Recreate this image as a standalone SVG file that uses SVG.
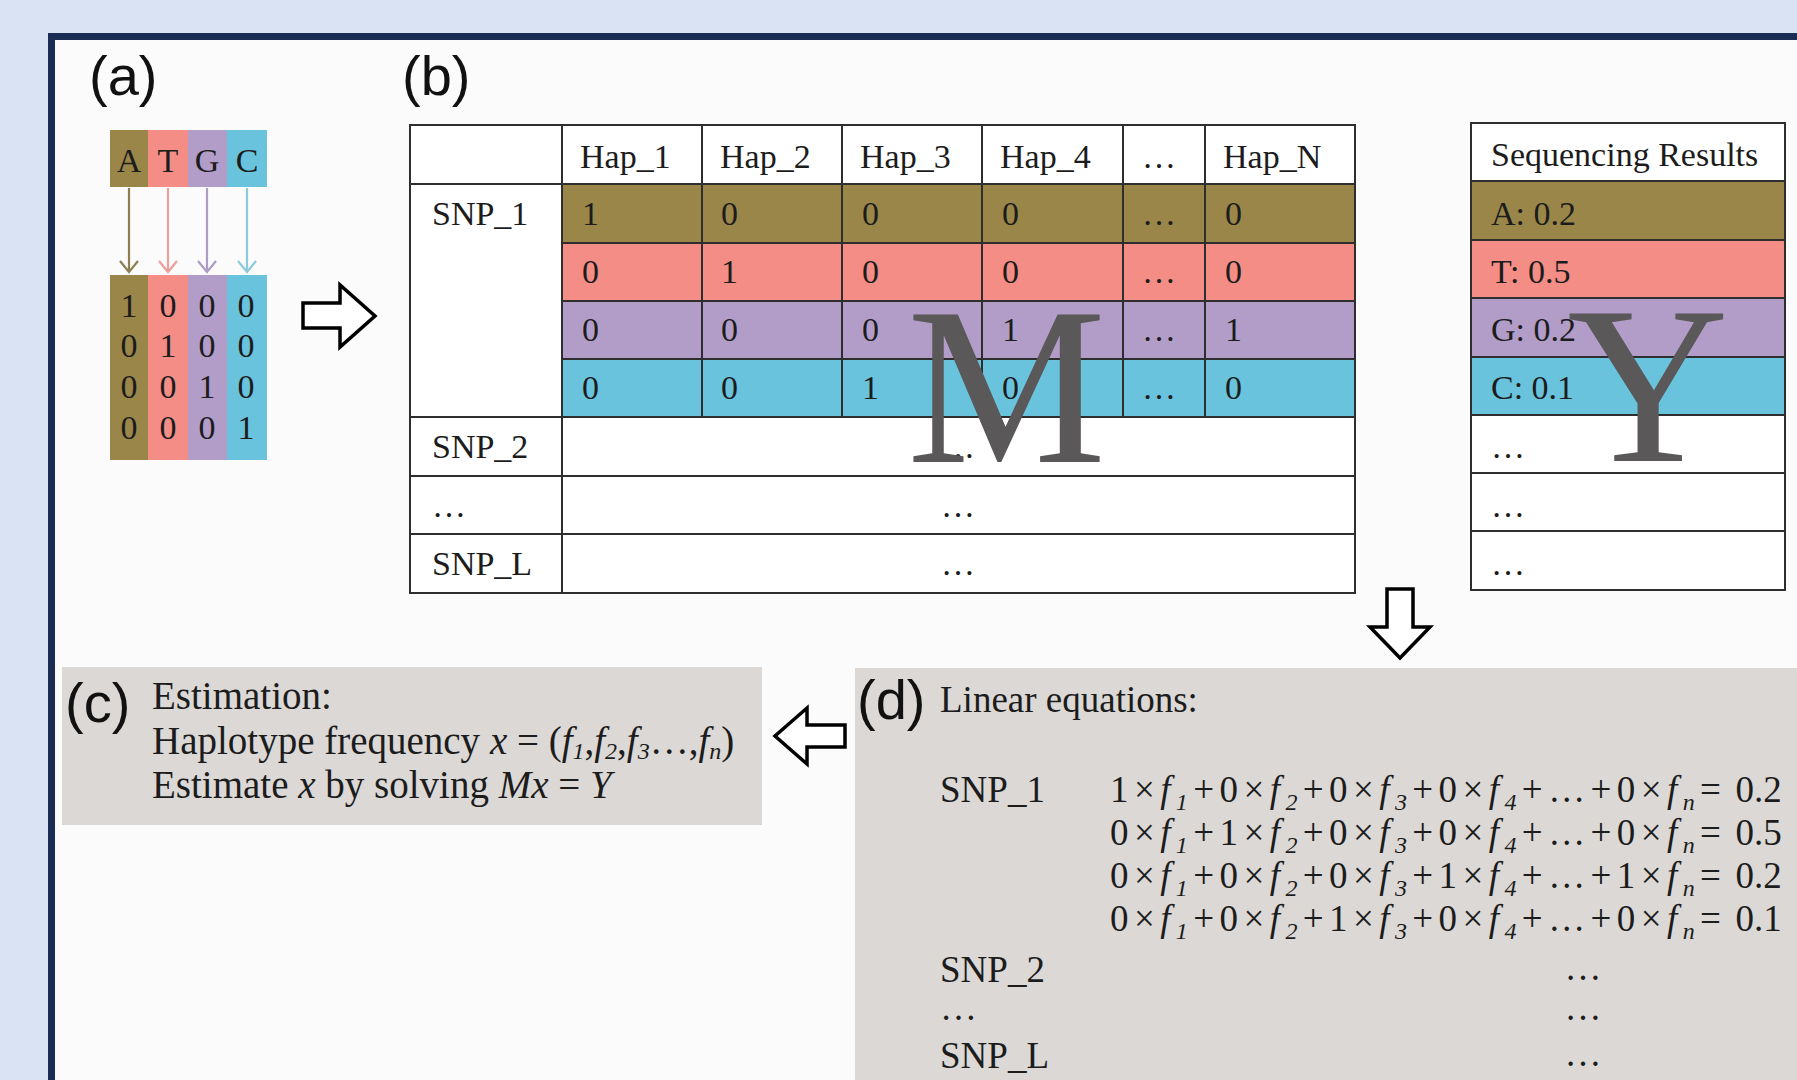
<svg xmlns="http://www.w3.org/2000/svg" width="1797" height="1080" viewBox="0 0 1797 1080">
  <style>
    .serif { font-family: "Liberation Serif", "Times New Roman", serif; fill: #1c1c1c; }
    .cell { font-size: 34px; }
    .big { font-family: "Liberation Serif", "Times New Roman", serif; font-size: 224px; fill: #5a5858; }
    .tag { font-family: "Liberation Sans", Arial, sans-serif; font-size: 56px; fill: #111; }
    .txt { font-size: 39px; }
    .eqn { font-size: 37px; }
    .eq { font-size: 37px; letter-spacing: 5.4px; }
    .val { letter-spacing: 0; }
    .it { font-style: italic; }
    .sub { font-style: italic; font-size: 24px; }
    .grid { stroke: #2e2e2e; stroke-width: 2; fill: none; }
    .hollow { fill: #ffffff; stroke: #000000; stroke-width: 3.5; stroke-linejoin: miter; }
    .cA { fill: #9a8649; }
    .cT { fill: #f38d86; }
    .cG { fill: #b29dc9; }
    .cC { fill: #69c3dc; }
    .panel { fill: #dbd8d6; }
  </style>

  <!-- page background and framed canvas -->
  <rect x="0" y="0" width="1797" height="1080" fill="#d9e3f3"/>
  <rect x="48" y="33" width="1749" height="1047" fill="#1b2d55"/>
  <rect x="55" y="40" width="1742" height="1040" fill="#fbfbfb"/>

  <!-- (a) base encoding -->
  <g id="panel-a">
    <text class="tag" x="89" y="95">(a)</text>
    <rect class="cA" x="110" y="130" width="38" height="57"/>
    <rect class="cT" x="148" y="130" width="40" height="57"/>
    <rect class="cG" x="188" y="130" width="39" height="57"/>
    <rect class="cC" x="227" y="130" width="40" height="57"/>
    <g class="serif cell" text-anchor="middle">
      <text x="129" y="172">A</text>
      <text x="168" y="172">T</text>
      <text x="207" y="172">G</text>
      <text x="247" y="172">C</text>
    </g>
    <rect class="cA" x="110" y="275" width="38" height="185"/>
    <rect class="cT" x="148" y="275" width="40" height="185"/>
    <rect class="cG" x="188" y="275" width="39" height="185"/>
    <rect class="cC" x="227" y="275" width="40" height="185"/>
    <g class="serif cell" text-anchor="middle">
      <text x="129" y="317">1</text><text x="168" y="317">0</text><text x="207" y="317">0</text><text x="246" y="317">0</text>
      <text x="129" y="357">0</text><text x="168" y="357">1</text><text x="207" y="357">0</text><text x="246" y="357">0</text>
      <text x="129" y="398">0</text><text x="168" y="398">0</text><text x="207" y="398">1</text><text x="246" y="398">0</text>
      <text x="129" y="439">0</text><text x="168" y="439">0</text><text x="207" y="439">0</text><text x="246" y="439">1</text>
    </g>
  </g>

  <!-- (b) haplotype matrix M -->
  <g id="table-m">
    <text class="tag" x="402" y="95">(b)</text>
    <rect x="410" y="125" width="945" height="468" fill="#ffffff"/>
    <rect class="cA" x="562" y="184" width="793" height="59"/>
    <rect class="cT" x="562" y="243" width="793" height="58"/>
    <rect class="cG" x="562" y="301" width="793" height="58"/>
    <rect class="cC" x="562" y="359" width="793" height="58"/>
    <g class="grid">
      <rect x="410" y="125" width="945" height="468"/>
      <path d="M410 184H1355 M562 243H1355 M562 301H1355 M562 359H1355 M410 417H1355 M410 476H1355 M410 534H1355"/>
      <path d="M562 125V593 M702 125V417 M842 125V417 M982 125V417 M1123 125V417 M1205 125V417"/>
    </g>
    <g class="serif cell">
      <text x="580" y="168">Hap_1</text>
      <text x="720" y="168">Hap_2</text>
      <text x="860" y="168">Hap_3</text>
      <text x="1000" y="168">Hap_4</text>
      <text x="1142" y="168">…</text>
      <text x="1223" y="168">Hap_N</text>
      <text x="432" y="225">SNP_1</text>
      <text x="432" y="458">SNP_2</text>
      <text x="432" y="517">…</text>
      <text x="432" y="575">SNP_L</text>

      <text x="582" y="225">1</text><text x="721" y="225">0</text><text x="862" y="225">0</text><text x="1002" y="225">0</text><text x="1142" y="225">…</text><text x="1225" y="225">0</text>
      <text x="582" y="283">0</text><text x="721" y="283">1</text><text x="862" y="283">0</text><text x="1002" y="283">0</text><text x="1142" y="283">…</text><text x="1225" y="283">0</text>
      <text x="582" y="341">0</text><text x="721" y="341">0</text><text x="862" y="341">0</text><text x="1002" y="341">1</text><text x="1142" y="341">…</text><text x="1225" y="341">1</text>
      <text x="582" y="399">0</text><text x="721" y="399">0</text><text x="862" y="399">1</text><text x="1002" y="399">0</text><text x="1142" y="399">…</text><text x="1225" y="399">0</text>

      <text x="958" y="458" text-anchor="middle">…</text>
      <text x="958" y="517" text-anchor="middle">…</text>
      <text x="958" y="575" text-anchor="middle">…</text>
    </g>
    <text class="big" x="907" y="462">M</text>
  </g>

  <!-- sequencing result vector Y -->
  <g id="table-y">
    <rect x="1471" y="123" width="314" height="467" fill="#ffffff"/>
    <rect class="cA" x="1471" y="181" width="314" height="59"/>
    <rect class="cT" x="1471" y="240" width="314" height="58"/>
    <rect class="cG" x="1471" y="298" width="314" height="59"/>
    <rect class="cC" x="1471" y="357" width="314" height="58"/>
    <g class="grid">
      <rect x="1471" y="123" width="314" height="467"/>
      <path d="M1471 181H1785 M1471 240H1785 M1471 298H1785 M1471 357H1785 M1471 415H1785 M1471 473H1785 M1471 531H1785"/>
    </g>
    <g class="serif cell">
      <text x="1491" y="166">Sequencing Results</text>
      <text x="1491" y="225">A: 0.2</text>
      <text x="1491" y="283">T: 0.5</text>
      <text x="1491" y="341">G: 0.2</text>
      <text x="1491" y="399">C: 0.1</text>
      <text x="1491" y="458">…</text>
      <text x="1491" y="517">…</text>
      <text x="1491" y="575">…</text>
    </g>
    <text class="big" x="1567" y="461">Y</text>
  </g>

  <!-- (c) estimation -->
  <g id="box-c">
    <rect class="panel" x="62" y="667" width="700" height="158"/>
    <text class="tag" x="65" y="722">(c)</text>
    <g class="serif txt">
      <text x="152" y="709">Estimation:</text>
      <text x="152" y="754">Haplotype frequency <tspan class="it">x</tspan> = (<tspan class="it">f</tspan><tspan class="sub" dy="5">1</tspan><tspan dy="-5">,</tspan><tspan class="it">f</tspan><tspan class="sub" dy="5">2</tspan><tspan dy="-5">,</tspan><tspan class="it">f</tspan><tspan class="sub" dy="5">3</tspan><tspan dy="-5">…,</tspan><tspan class="it">f</tspan><tspan class="sub" dy="5">n</tspan><tspan dy="-5">)</tspan></text>
      <text x="152" y="798">Estimate <tspan class="it">x</tspan> by solving <tspan class="it">Mx</tspan> = <tspan class="it">Y</tspan></text>
    </g>
  </g>

  <!-- (d) linear equations -->
  <g id="box-d">
    <rect class="panel" x="855" y="668" width="942" height="412"/>
    <text class="tag" x="857" y="719">(d)</text>
    <g class="serif eqn">
      <text x="940" y="712">Linear equations:</text>
      <text x="940" y="802">SNP_1</text>
      <text x="940" y="982">SNP_2</text>
      <text x="940" y="1020">…</text>
      <text x="940" y="1068">SNP_L</text>
      <text x="1583" y="980" text-anchor="middle">…</text>
      <text x="1583" y="1020" text-anchor="middle">…</text>
      <text x="1583" y="1066" text-anchor="middle">…</text>
    </g>
    <g class="serif eq">
      <text x="1110" y="802">1×<tspan class="it">f</tspan><tspan class="sub" dy="8">1</tspan><tspan dy="-8">+0×</tspan><tspan class="it">f</tspan><tspan class="sub" dy="8">2</tspan><tspan dy="-8">+0×</tspan><tspan class="it">f</tspan><tspan class="sub" dy="8">3</tspan><tspan dy="-8">+0×</tspan><tspan class="it">f</tspan><tspan class="sub" dy="8">4</tspan><tspan dy="-8">+…+0×</tspan><tspan class="it">f</tspan><tspan class="sub" dy="8">n</tspan><tspan dy="-8">=</tspan><tspan class="val"> 0.2</tspan></text>
      <text x="1110" y="845">0×<tspan class="it">f</tspan><tspan class="sub" dy="8">1</tspan><tspan dy="-8">+1×</tspan><tspan class="it">f</tspan><tspan class="sub" dy="8">2</tspan><tspan dy="-8">+0×</tspan><tspan class="it">f</tspan><tspan class="sub" dy="8">3</tspan><tspan dy="-8">+0×</tspan><tspan class="it">f</tspan><tspan class="sub" dy="8">4</tspan><tspan dy="-8">+…+0×</tspan><tspan class="it">f</tspan><tspan class="sub" dy="8">n</tspan><tspan dy="-8">=</tspan><tspan class="val"> 0.5</tspan></text>
      <text x="1110" y="888">0×<tspan class="it">f</tspan><tspan class="sub" dy="8">1</tspan><tspan dy="-8">+0×</tspan><tspan class="it">f</tspan><tspan class="sub" dy="8">2</tspan><tspan dy="-8">+0×</tspan><tspan class="it">f</tspan><tspan class="sub" dy="8">3</tspan><tspan dy="-8">+1×</tspan><tspan class="it">f</tspan><tspan class="sub" dy="8">4</tspan><tspan dy="-8">+…+1×</tspan><tspan class="it">f</tspan><tspan class="sub" dy="8">n</tspan><tspan dy="-8">=</tspan><tspan class="val"> 0.2</tspan></text>
      <text x="1110" y="931">0×<tspan class="it">f</tspan><tspan class="sub" dy="8">1</tspan><tspan dy="-8">+0×</tspan><tspan class="it">f</tspan><tspan class="sub" dy="8">2</tspan><tspan dy="-8">+1×</tspan><tspan class="it">f</tspan><tspan class="sub" dy="8">3</tspan><tspan dy="-8">+0×</tspan><tspan class="it">f</tspan><tspan class="sub" dy="8">4</tspan><tspan dy="-8">+…+0×</tspan><tspan class="it">f</tspan><tspan class="sub" dy="8">n</tspan><tspan dy="-8">=</tspan><tspan class="val"> 0.1</tspan></text>
    </g>
  </g>

  <!-- connectors: base-to-code arrows and panel flow arrows -->
  <g id="connectors">
    <g fill="none" stroke-width="2.2">
      <path d="M129 188V271 M120 261L129 272L138 261" stroke="#8c7f52"/>
      <path d="M168 188V271 M159 261L168 272L177 261" stroke="#e9a09c"/>
      <path d="M207 188V271 M198 261L207 272L216 261" stroke="#ac9cc6"/>
      <path d="M247 188V271 M238 261L247 272L256 261" stroke="#8ccbdc"/>
    </g>
    <polygon class="hollow" points="303,303 340,303 340,285 375,316 340,347 340,328 303,328"/>
    <polygon class="hollow" points="1387,589 1413,589 1413,627 1430,627 1400,658 1370,627 1387,627"/>
    <polygon class="hollow" points="845,725 807,725 807,708 775,736 807,764 807,747 845,747"/>
  </g>
</svg>
